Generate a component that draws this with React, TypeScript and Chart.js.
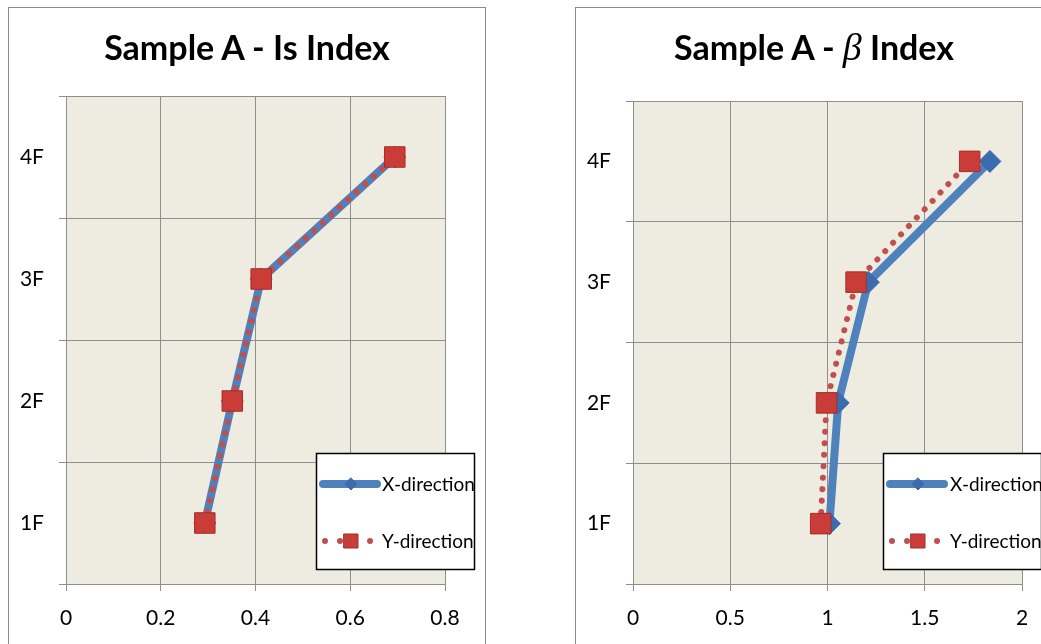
import React, { useEffect, useRef } from 'react';
import { Chart, registerables } from 'chart.js';

Chart.register(...registerables);

// ---- data ----
const floors = ['1F', '2F', '3F', '4F'];
const axisFloors = ['4F', '3F', '2F', '1F'];
const seriesNames = ['X-direction', 'Y-direction'];

const isIndexX = [0.293, 0.351, 0.412, 0.694];
const isIndexY = [0.293, 0.351, 0.412, 0.694];
const isTicks = [0, 0.2, 0.4, 0.6, 0.8];

const betaIndexX = [1.01, 1.055, 1.21, 1.835];
const betaIndexY = [0.965, 0.995, 1.147, 1.731];
const betaTicks = [0, 0.5, 1, 1.5, 2];

// ---- styles ----
const GRID = '#8e8e8e';
const PLOT_BG = '#eeece1';
const BLUE = '#4f81bd';
const BLUE_DARK = '#3b6cae';
const RED = '#c0504d';
const RED_FILL = '#c93c38';
const RED_EDGE = '#a32f2c';
const FONT = 'Lato, "Open Sans", sans-serif';

const plotBg = {
  id: 'plotBg',
  beforeDraw(chart: any) {
    const { ctx, chartArea: a } = chart;
    ctx.save();
    ctx.fillStyle = PLOT_BG;
    ctx.fillRect(a.left, a.top, a.right - a.left, a.bottom - a.top);
    ctx.restore();
  },
};

const boxLegend = {
  id: 'boxLegend',
  afterDraw(chart: any, _args: any, opts: any) {
    const { ctx, chartArea: a } = chart;
    const left = Math.round(a.right - opts.fromRight);
    const top = Math.round(a.bottom - opts.fromBottom);
    const w = opts.width;
    const h = opts.height;
    ctx.save();
    ctx.fillStyle = '#ffffff';
    ctx.fillRect(left, top, w, h);
    ctx.strokeStyle = '#000000';
    ctx.lineWidth = 1.5;
    ctx.strokeRect(left + 0.5, top + 0.5, w, h);
    chart.data.datasets.forEach((ds: any, i: number) => {
      const y = top + opts.rows[i];
      const x0 = left + 7;
      const x1 = left + 61;
      ctx.beginPath();
      ctx.strokeStyle = ds.borderColor;
      ctx.lineWidth = ds.borderWidth;
      ctx.lineCap = 'round';
      ctx.setLineDash(i === 1 ? [0.01, 15] : []);
      ctx.lineDashOffset = 0;
      ctx.moveTo(i === 1 ? left + 9 : x0, y);
      ctx.lineTo(x1, y);
      ctx.stroke();
      ctx.setLineDash([]);
      const cx = left + 35;
      ctx.fillStyle = ds.pointBackgroundColor;
      ctx.strokeStyle = ds.pointBorderColor;
      ctx.lineWidth = 1;
      ctx.beginPath();
      if (ds.pointStyle === 'rectRot') {
        const r = 6;
        ctx.moveTo(cx, y - r);
        ctx.lineTo(cx + r, y);
        ctx.lineTo(cx, y + r);
        ctx.lineTo(cx - r, y);
        ctx.closePath();
      } else {
        const s = 7;
        ctx.rect(cx - s, y - s, 2 * s, 2 * s);
      }
      ctx.fill();
      ctx.stroke();
      ctx.fillStyle = '#000000';
      ctx.font = `19px ${FONT}`;
      ctx.textBaseline = 'middle';
      ctx.textAlign = 'left';
      ctx.fillText(ds.label, left + opts.textX, y + 1);
    });
    ctx.restore();
  },
};

function makeConfig(xs: number[], ys: number[], ticks: number[], legend: any, pad: any) {
  const toPoints = (vals: number[]) => floors.map((f, i) => ({ x: vals[i], y: f }));
  const step = ticks[1] - ticks[0];
  return {
    type: 'line',
    data: {
      datasets: [
        {
          label: seriesNames[0],
          data: toPoints(xs),
          borderColor: BLUE,
          borderWidth: 8,
          borderCapStyle: 'round',
          borderJoinStyle: 'round',
          pointStyle: 'rectRot',
          pointRadius: 11,
          pointBackgroundColor: BLUE_DARK,
          pointBorderColor: BLUE_DARK,
          pointBorderWidth: 1,
          order: 1,
          tension: 0,
        },
        {
          label: seriesNames[1],
          data: toPoints(ys),
          borderColor: RED,
          borderWidth: 6,
          borderCapStyle: 'round',
          borderDash: [0.01, 11.5],
          pointStyle: 'rect',
          pointRadius: 14.5,
          pointBackgroundColor: RED_FILL,
          pointBorderColor: RED_EDGE,
          pointBorderWidth: 1,
          order: 0,
          tension: 0,
        },
      ],
    },
    options: {
      animation: false,
      responsive: false,
      maintainAspectRatio: false,
      indexAxis: 'y',
      layout: { padding: pad },
      plugins: {
        legend: { display: false },
        tooltip: { enabled: false },
        title: { display: false },
        boxLegend: legend,
      },
      scales: {
        x: {
          type: 'linear',
          min: ticks[0],
          max: ticks[ticks.length - 1],
          ticks: {
            stepSize: step,
            color: '#000000',
            font: { family: FONT, size: 21 },
            padding: 15,
            callback: (v: any) => String(+Number(v).toFixed(3)),
          },
          grid: { color: GRID, lineWidth: 1, tickLength: 7, tickColor: GRID },
          border: { color: GRID, width: 1 },
          afterFit(s: any) {
            s.height = 64;
          },
        },
        y: {
          type: 'category',
          labels: axisFloors,
          offset: true,
          ticks: {
            color: '#000000',
            font: { family: FONT, size: 21 },
            padding: 15,
          },
          grid: { offset: true, color: GRID, lineWidth: 1, tickLength: 7, tickColor: GRID },
          border: { color: GRID, width: 1 },
          afterFit(s: any) {
            s.width = 57;
          },
        },
      },
    },
    plugins: [plotBg, boxLegend],
  };
}

function ChartPanel(props: { config: any; left: number; title: React.ReactNode }) {
  const ref = useRef<HTMLCanvasElement | null>(null);
  useEffect(() => {
    if (!ref.current) return;
    const chart = new Chart(ref.current, props.config);
    return () => chart.destroy();
  }, []);
  return (
    <div
      style={{
        position: 'fixed',
        left: props.left,
        top: 7,
        width: 476,
        height: 700,
        border: '1px solid #8a8a8a',
        background: '#ffffff',
      }}
    >
      <canvas ref={ref} width={476} height={640} style={{ display: 'block', width: 476, height: 640 }} />
      <div
        style={{
          position: 'absolute',
          left: 0,
          top: 22,
          width: 476,
          textAlign: 'center',
          fontFamily: FONT,
          fontWeight: 700,
          fontSize: 34,
          lineHeight: '34px',
          color: '#000000',
          whiteSpace: 'nowrap',
        }}
      >
        {props.title}
      </div>
    </div>
  );
}

export default function App() {
  const leftCfg = makeConfig(isIndexX, isIndexY, isTicks,
    { fromRight: 129, fromBottom: 131, width: 158, height: 116, rows: [31, 88], textX: 66 },
    { left: 0, right: 40, top: 88, bottom: 0 });
  const rightCfg = makeConfig(betaIndexX, betaIndexY, betaTicks,
    { fromRight: 139, fromBottom: 131, width: 158, height: 116, rows: [31, 88], textX: 67 },
    { left: 0, right: 30, top: 93, bottom: 0 });
  return (
    <div>
      <ChartPanel config={leftCfg} left={8} title={<span>Sample A - Is Index</span>} />
      <ChartPanel
        config={rightCfg}
        left={575}
        title={
          <span>
            Sample A -{' '}
            <span style={{ fontFamily: '"Liberation Serif", serif', fontStyle: 'italic', fontWeight: 400, fontSize: 38 }}>β</span>{' '}
            Index
          </span>
        }
      />
    </div>
  );
}
